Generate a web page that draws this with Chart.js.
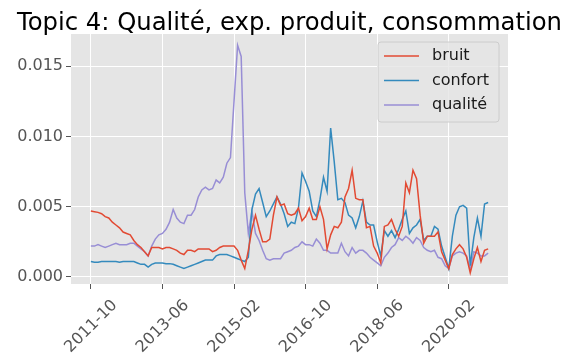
<!DOCTYPE html>
<html>
<head>
<meta charset="utf-8">
<script src="https://cdn.jsdelivr.net/npm/chart.js@4"></script>
<style>
  body { margin: 0; background: #fff; }
  canvas { display: block; }
</style>
</head>
<body>
<canvas id="topicChart" width="572" height="356"></canvas>
<script>
const bruit = [
  0.0047, 0.00465, 0.0046, 0.0045, 0.0043, 0.0042, 0.0039, 0.0037, 0.0035, 0.0032,
  0.0031, 0.0030, 0.0026, 0.0023, 0.0021, 0.0018, 0.0015, 0.0021, 0.0021, 0.0021,
  0.0020, 0.0021, 0.0021, 0.0020, 0.0019, 0.0017, 0.0016, 0.0019, 0.0019, 0.0018,
  0.0020, 0.0020, 0.0020, 0.0020, 0.0018, 0.0019, 0.0021, 0.0022, 0.0022, 0.0022,
  0.0022, 0.0019, 0.0012, 0.0006, 0.0019, 0.0034, 0.0044, 0.0034, 0.0025, 0.0025,
  0.0027, 0.0044, 0.0057, 0.0051, 0.0052, 0.0045, 0.0044, 0.0045, 0.0049, 0.0040,
  0.0043, 0.0049, 0.0041, 0.0041, 0.0050, 0.0041, 0.0020, 0.0030, 0.0036, 0.0035,
  0.0039, 0.0057, 0.0063, 0.0076, 0.0056, 0.0055, 0.0055, 0.0035, 0.0036, 0.0022,
  0.0017, 0.0010, 0.0036, 0.0037, 0.0041, 0.0034, 0.0029, 0.0036, 0.0067, 0.0060,
  0.0076, 0.0070, 0.0044, 0.0024, 0.0029, 0.0029, 0.0029, 0.0032, 0.0018, 0.0012,
  0.0006, 0.0016, 0.0020, 0.0023, 0.0020, 0.0014, 0.0003, 0.0013, 0.0021, 0.0011,
  0.0019, 0.0020
];
const confort = [
  0.0011, 0.00105, 0.00105, 0.0011, 0.0011, 0.0011, 0.0011, 0.0011, 0.00105, 0.0011,
  0.0011, 0.0011, 0.0011, 0.0010, 0.0009, 0.0009, 0.0007, 0.0009, 0.0010, 0.0010,
  0.0010, 0.00095, 0.00095, 0.0009, 0.0008, 0.0007, 0.0006, 0.0007, 0.0008, 0.0009,
  0.0010, 0.0011, 0.0012, 0.0012, 0.0012, 0.0015, 0.0016, 0.0016, 0.0016, 0.0015,
  0.0014, 0.0013, 0.0012, 0.0011, 0.0014, 0.0048, 0.0059, 0.0063, 0.0053, 0.0043,
  0.0047, 0.0052, 0.0057, 0.0052, 0.0045, 0.0036, 0.0039, 0.0038, 0.0049, 0.0074,
  0.0068, 0.0061, 0.0047, 0.0043, 0.0055, 0.0071, 0.0061, 0.0106, 0.0082, 0.0055,
  0.0056, 0.0053, 0.0044, 0.0042, 0.0035, 0.0043, 0.0054, 0.0039, 0.0037, 0.0037,
  0.0025, 0.0015, 0.0033, 0.0029, 0.0033, 0.0028, 0.0034, 0.0041, 0.0047, 0.0031,
  0.0035, 0.0037, 0.0041, 0.0026, 0.0029, 0.0029, 0.0036, 0.0034, 0.0022, 0.0014,
  0.0006, 0.0029, 0.0044, 0.0050, 0.0051, 0.0049, 0.0008, 0.0028, 0.0042, 0.0029,
  0.0052, 0.0053
];
const qualite = [
  0.0022, 0.0022, 0.0023, 0.0022, 0.0021, 0.0022, 0.0023, 0.0024, 0.0023, 0.0023,
  0.0023, 0.0024, 0.0024, 0.0022, 0.0020, 0.0018, 0.0015, 0.0022, 0.0027, 0.0030,
  0.0031, 0.0034, 0.0039, 0.0048, 0.0042, 0.0039, 0.0038, 0.0044, 0.0044, 0.0048,
  0.0057, 0.0062, 0.0064, 0.0062, 0.0063, 0.0069, 0.0067, 0.0071, 0.0081, 0.0085,
  0.0125, 0.0165, 0.0157, 0.0060, 0.0031, 0.0047, 0.0031, 0.0026, 0.0019, 0.0013,
  0.0012, 0.0013, 0.0013, 0.0013, 0.0017, 0.0018, 0.0019, 0.0021, 0.0022, 0.0025,
  0.0023, 0.0023, 0.0022, 0.0027, 0.0024, 0.0019, 0.0019, 0.0017, 0.0017, 0.0017,
  0.0024, 0.0018, 0.0015, 0.0021, 0.0017, 0.0019, 0.0019, 0.0017, 0.0014, 0.0012,
  0.0010, 0.0008, 0.0014, 0.0017, 0.0021, 0.0023, 0.0028, 0.0026, 0.0029, 0.0027,
  0.0024, 0.0028, 0.0026, 0.0021, 0.0019, 0.0018, 0.0019, 0.0014, 0.0013, 0.0008,
  0.0006, 0.0015, 0.0017, 0.0018, 0.0017, 0.0015, 0.0005, 0.0018, 0.0017, 0.0015,
  0.0015, 0.0017
];
const seriesNames = ["bruit", "confort", "qualité"];
const seriesColors = ["#E24A33", "#348ABD", "#988ED5"];
const tickLabels = ["2011-10", "2013-06", "2015-02", "2016-10", "2018-06", "2020-02"];
const yTicks = [0, 0.005, 0.010, 0.015];
const chartTitle = "Topic 4: Qualité, exp. produit, consommation";

// monthly index labels, starting at 2011-10
const months = [];
for (let i = 0; i < bruit.length; i++) {
  const m = 9 + i;
  const y = 2011 + Math.floor(m / 12);
  months.push(y + "-" + String((m % 12) + 1).padStart(2, "0"));
}

const FONT = "DejaVu Sans";
const TICK_COLOR = "#555555";

const span = months.length - 1;
const xPad = span * 0.05;

const axesBg = {
  id: "axesBg",
  beforeDraw(chart) {
    const { ctx, chartArea: a } = chart;
    ctx.save();
    ctx.fillStyle = "#E5E5E5";
    ctx.fillRect(a.left, a.top, a.right - a.left, a.bottom - a.top);
    ctx.restore();
  }
};

// title centred over the axes rather than the whole canvas
const axesTitle = {
  id: "axesTitle",
  afterDraw(chart) {
    const { ctx, chartArea: a } = chart;
    ctx.save();
    ctx.font = "24.3px '" + FONT + "'";
    ctx.fillStyle = "#000";
    ctx.textAlign = "center";
    ctx.textBaseline = "alphabetic";
    ctx.fillText(chartTitle, (a.left + a.right) / 2, a.top - 4);
    ctx.restore();
  }
};

// legend boxed inside the upper right corner of the axes
const innerLegend = {
  id: "innerLegend",
  afterDatasetsDraw(chart) {
    const { ctx, chartArea: a } = chart;
    const w = 121, h = 80;
    const x0 = a.right - 9 - w, y0 = a.top + 8;
    ctx.save();
    ctx.beginPath();
    ctx.roundRect(x0, y0, w, h, 3);
    ctx.fillStyle = "rgba(229,229,229,0.8)";
    ctx.fill();
    ctx.strokeStyle = "#CCCCCC";
    ctx.lineWidth = 1;
    ctx.stroke();
    ctx.font = "16px '" + FONT + "'";
    ctx.textBaseline = "middle";
    chart.data.datasets.forEach((ds, i) => {
      const cy = y0 + 14 + i * 24.5;
      ctx.beginPath();
      ctx.moveTo(x0 + 6, cy);
      ctx.lineTo(x0 + 41, cy);
      ctx.strokeStyle = ds.borderColor;
      ctx.lineWidth = 1.5;
      ctx.stroke();
      ctx.fillStyle = "#1a1a1a";
      ctx.fillText(ds.label, x0 + 54, cy);
    });
    ctx.restore();
  }
};

const toPoints = arr => arr.map((v, i) => ({ x: i, y: v }));

new Chart(document.getElementById("topicChart"), {
  type: "line",
  data: {
    datasets: [bruit, confort, qualite].map((arr, i) => ({
      label: seriesNames[i],
      data: toPoints(arr),
      borderColor: seriesColors[i],
      borderWidth: 1.5,
      pointRadius: 0,
      tension: 0,
      fill: false
    }))
  },
  options: {
    responsive: false,
    animation: false,
    devicePixelRatio: 1,
    layout: { padding: { left: 0, right: 64, top: 34, bottom: 0 } },
    plugins: {
      legend: { display: false },
      tooltip: { enabled: false },
      title: { display: false }
    },
    scales: {
      x: {
        type: "linear",
        min: -xPad,
        max: span + xPad,
        afterBuildTicks: axis => {
          axis.ticks = tickLabels.map(l => ({ value: months.indexOf(l) }));
        },
        afterFit: axis => { axis.height = 72; },
        grid: { color: "#FFFFFF", lineWidth: 1, tickColor: TICK_COLOR, tickLength: 5 },
        border: { display: false },
        ticks: {
          autoSkip: false,
          maxRotation: 45,
          minRotation: 45,
          labelOffset: 24,
          padding: 7,
          color: TICK_COLOR,
          font: { family: FONT, size: 16 },
          callback: v => months[v]
        }
      },
      y: {
        min: -0.0005,
        max: 0.0173,
        afterBuildTicks: axis => {
          axis.ticks = yTicks.map(v => ({ value: v }));
        },
        afterFit: axis => { axis.width = 71; },
        grid: { color: "#FFFFFF", lineWidth: 1, tickColor: TICK_COLOR, tickLength: 5 },
        border: { display: false },
        ticks: {
          padding: 3,
          color: TICK_COLOR,
          font: { family: FONT, size: 16 },
          callback: v => v.toFixed(3)
        }
      }
    }
  },
  plugins: [axesBg, axesTitle, innerLegend]
});
</script>
</body>
</html>
